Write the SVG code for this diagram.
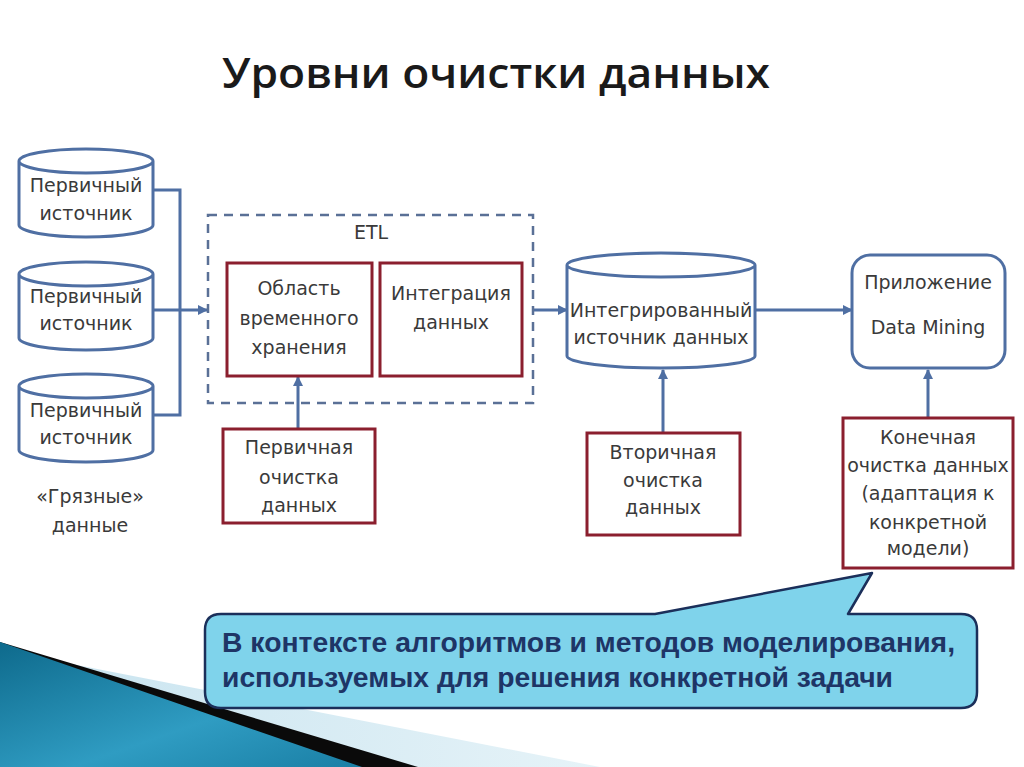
<svg xmlns="http://www.w3.org/2000/svg" width="1024" height="767" viewBox="0 0 1024 767">
<defs>
<style>
.cyl{fill:#fff;stroke:#4f6fa3;stroke-width:3}
.box{fill:#fff;stroke:#8b1f2e;stroke-width:3}
.rbox{fill:#fff;stroke:#4f6fa3;stroke-width:3}
.t{font-family:"DejaVu Sans",Verdana,sans-serif;font-size:19px;fill:#3a3a3a;text-anchor:middle}
.con{fill:none;stroke:#4f6fa3;stroke-width:3}
.ctext{font-family:"Liberation Sans Narrow","Liberation Sans",Arial,sans-serif;font-weight:bold;font-size:27px;fill:#1e3566}
</style>
<marker id="ah" viewBox="0 0 10 10" refX="9" refY="5" markerWidth="10" markerHeight="10" markerUnits="userSpaceOnUse" orient="auto">
<path d="M0,0 L10,5 L0,10 Z" fill="#4f6fa3"/>
</marker>
<linearGradient id="teal" x1="0" y1="0" x2="1" y2="1">
<stop offset="0" stop-color="#0e6a8c"/>
<stop offset="0.6" stop-color="#2f9cc2"/>
<stop offset="1" stop-color="#1a7fa5"/>
</linearGradient>
<linearGradient id="pale" x1="0" y1="0" x2="1" y2="0">
<stop offset="0" stop-color="#c7e3ef"/>
<stop offset="1" stop-color="#e6f3f8"/>
</linearGradient>
</defs>
<rect width="1024" height="767" fill="#fff"/>

<!-- bottom-left decoration -->
<polygon points="0,650 600,767 0,767" fill="url(#pale)"/>
<polygon points="0,642 418,767 0,767" fill="#0a0a0a"/>
<polygon points="0,642 362,767 0,767" fill="url(#teal)"/>

<text x="496" y="88" text-anchor="middle" font-family="'Open Sans',sans-serif" font-weight="600" font-size="42" fill="#1a1a1a" textLength="548" lengthAdjust="spacingAndGlyphs">Уровни очистки данных</text>

<g id="connectors">
<polyline class="con" points="153,190 180,190 180,415 153,415"/>
<line class="con" x1="153" y1="310" x2="207" y2="310" marker-end="url(#ah)"/>
<line class="con" x1="533" y1="310" x2="567" y2="310" marker-end="url(#ah)"/>
<line class="con" x1="755" y1="310" x2="852" y2="310" marker-end="url(#ah)"/>
<line class="con" x1="298" y1="429" x2="298" y2="377" marker-end="url(#ah)"/>
<line class="con" x1="663" y1="433" x2="663" y2="370" marker-end="url(#ah)"/>
<line class="con" x1="928" y1="418" x2="928" y2="370" marker-end="url(#ah)"/>
</g>

<g id="src1">
<path class="cyl" d="M19,161 A67,12 0 0 1 153,161 L153,225 A67,12 0 0 1 19,225 Z M19,161 A67,12 0 0 0 153,161"/>
<text class="t" x="86" y="192">Первичный</text>
<text class="t" x="86" y="220">источник</text>
</g>
<g id="src2">
<path class="cyl" d="M19,274 A67,12 0 0 1 153,274 L153,338 A67,12 0 0 1 19,338 Z M19,274 A67,12 0 0 0 153,274"/>
<text class="t" x="86" y="303">Первичный</text>
<text class="t" x="86" y="330">источник</text>
</g>
<g id="src3">
<path class="cyl" d="M19,386 A67,12 0 0 1 153,386 L153,450 A67,12 0 0 1 19,450 Z M19,386 A67,12 0 0 0 153,386"/>
<text class="t" x="86" y="417">Первичный</text>
<text class="t" x="86" y="444">источник</text>
</g>
<g id="dirty">
<text class="t" x="90" y="503">«Грязные»</text>
<text class="t" x="90" y="532">данные</text>
</g>

<g id="etl">
<rect x="208" y="215" width="325" height="188" fill="none" stroke="#5a7096" stroke-width="2.5" stroke-dasharray="9,7"/>
<text class="t" x="371" y="239">ETL</text>
</g>
<g id="staging">
<rect class="box" x="227" y="263" width="145" height="113"/>
<text class="t" x="299" y="295">Область</text>
<text class="t" x="299" y="325">временного</text>
<text class="t" x="299" y="354">хранения</text>
</g>
<g id="integration">
<rect class="box" x="380" y="263" width="142" height="113"/>
<text class="t" x="451" y="300">Интеграция</text>
<text class="t" x="451" y="329">данных</text>
</g>
<g id="primary-clean">
<rect class="box" x="223" y="429" width="152" height="94"/>
<text class="t" x="299" y="454">Первичная</text>
<text class="t" x="299" y="484">очистка</text>
<text class="t" x="299" y="512">данных</text>
</g>
<g id="integrated">
<path class="cyl" d="M567,265 A94,12 0 0 1 755,265 L755,356 A94,12 0 0 1 567,356 Z M567,265 A94,12 0 0 0 755,265"/>
<text class="t" x="661" y="317">Интегрированный</text>
<text class="t" x="661" y="344">источник данных</text>
</g>
<g id="secondary-clean">
<rect class="box" x="587" y="433" width="153" height="102"/>
<text class="t" x="663" y="459">Вторичная</text>
<text class="t" x="663" y="487">очистка</text>
<text class="t" x="663" y="514">данных</text>
</g>
<g id="app">
<rect class="rbox" x="852" y="255" width="153" height="113" rx="18"/>
<text class="t" x="928" y="289">Приложение</text>
<text class="t" x="928" y="334">Data Mining</text>
</g>
<g id="final-clean">
<rect class="box" x="843" y="418" width="170" height="150"/>
<text class="t" x="928" y="444">Конечная</text>
<text class="t" x="928" y="472">очистка данных</text>
<text class="t" x="928" y="500">(адаптация к</text>
<text class="t" x="928" y="529">конкретной</text>
<text class="t" x="928" y="555">модели)</text>
</g>

<g id="callout">
<path d="M221,614 L655,614 L872,573 L848,614 L961,614 Q977,614 977,630 L977,692 Q977,708 961,708 L221,708 Q205,708 205,692 L205,630 Q205,614 221,614 Z" fill="#7fd3eb" stroke="#1b2f5a" stroke-width="2.5" stroke-linejoin="round"/>
<text class="ctext" x="222" y="652" textLength="733" lengthAdjust="spacingAndGlyphs">В контексте алгоритмов и методов моделирования,</text>
<text class="ctext" x="222" y="687" textLength="671" lengthAdjust="spacingAndGlyphs">используемых для решения конкретной задачи</text>
</g>
</svg>
